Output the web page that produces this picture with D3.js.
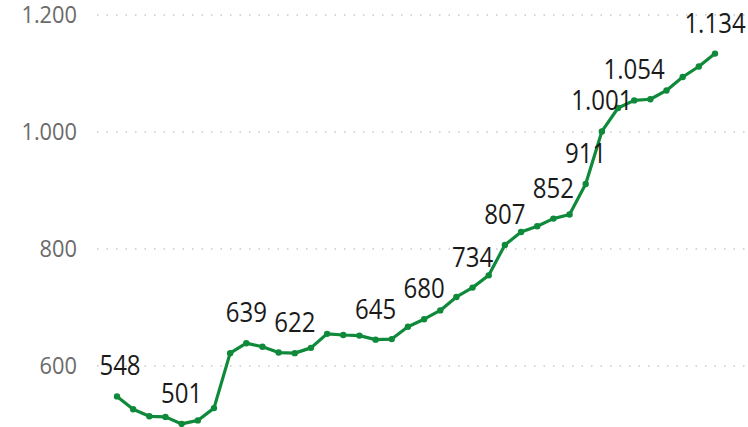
<!DOCTYPE html>
<html>
<head>
<meta charset="utf-8">
<script src="https://cdn.jsdelivr.net/npm/d3@7"></script>
<style>
  html, body { margin: 0; padding: 0; background: #fff; }
  svg { display: block; }
</style>
</head>
<body>
<svg id="chart" width="748" height="427"></svg>
<script>
const periods = d3.range(1, 39).map(i => "P" + i);
const values = [548, 526, 514, 513, 501, 507, 528, 622, 639, 633,
                623, 622, 631, 655, 653, 652, 645, 646, 667, 680,
                695, 718, 734, 755, 807, 829, 839, 852, 859, 911,
                1001, 1041, 1054, 1056, 1071, 1094, 1112, 1134];
const labeledIdx = [0, 4, 8, 11, 16, 19, 22, 24, 27, 29, 30, 32, 37];
const yTicks = [600, 800, 1000, 1200];

const W = 748, H = 427;
const FONT = "'Open Sans', 'Segoe UI', sans-serif";
const SX = 0.89;
const svg = d3.select("#chart");
const x = d3.scalePoint().domain(periods).range([117, 715]);
const y = d3.scaleLinear().domain([600, 1200]).range([366, 15]);

const fmt = v => d3.format(",")(v).replace(/,/g, ".");

// gridlines + axis labels
const yAxis = d3.axisLeft(y).tickValues(yTicks).tickSize(0).tickPadding(0).tickFormat(fmt);
const gAxis = svg.append("g").attr("transform", "translate(77,0)").call(yAxis);
gAxis.select(".domain").remove();
gAxis.selectAll("text")
  .attr("font-family", FONT)
  .attr("font-size", 24.5)
  .attr("fill", "#6b6b6b")
  .attr("transform", `scale(${SX},1)`);

svg.append("g").selectAll("line").data(yTicks).join("line")
  .attr("x1", 97).attr("x2", W)
  .attr("y1", d => y(d)).attr("y2", d => y(d))
  .attr("stroke", "#c8c8c8")
  .attr("stroke-width", 1.5)
  .attr("stroke-dasharray", "1.5,8");

const data = periods.map((p, i) => ({p, v: values[i], i}));

const line = d3.line().x(d => x(d.p)).y(d => y(d.v));
svg.append("path").datum(data)
  .attr("d", line)
  .attr("fill", "none")
  .attr("stroke", "#0f8a3a")
  .attr("stroke-width", 3.2)
  .attr("stroke-linejoin", "round");

svg.append("g").selectAll("circle").data(data).join("circle")
  .attr("cx", d => x(d.p)).attr("cy", d => y(d.v))
  .attr("r", 3.2)
  .attr("fill", "#0f8a3a");

svg.append("g").selectAll("text").data(data.filter(d => labeledIdx.includes(d.i))).join("text")
  .attr("transform", d => `translate(${x(d.p) + (d.i === 0 ? 3 : 0)},${y(d.v) - 21}) scale(${SX},1)`)
  .attr("text-anchor", "middle")
  .attr("font-family", FONT)
  .attr("font-size", 27)
  .attr("fill", "#1a1a1a")
  .text(d => fmt(d.v));
</script>
</body>
</html>
